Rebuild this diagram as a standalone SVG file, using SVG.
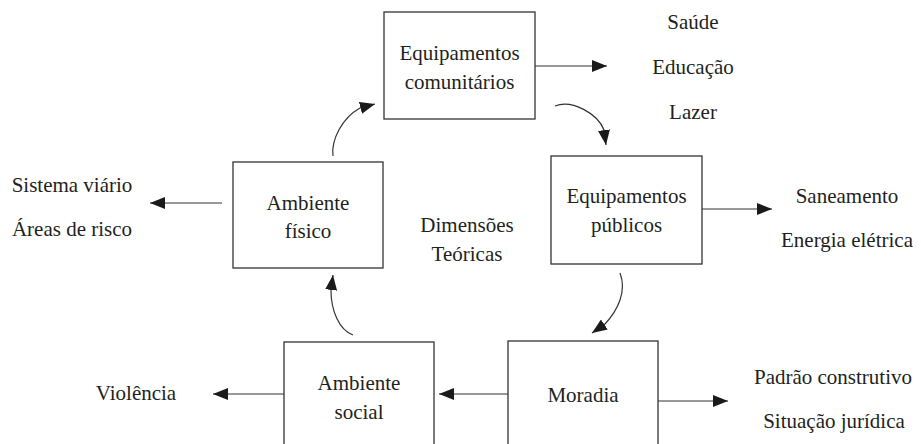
<svg xmlns="http://www.w3.org/2000/svg" width="921" height="444" viewBox="0 0 921 444">
<style>
.box{fill:#fff;stroke:#333;stroke-width:1.3}
.t{font-family:'Liberation Serif','DejaVu Serif','Noto Serif',serif;font-size:21px;fill:#231f20;text-anchor:middle}
.c{fill:none;stroke:#333;stroke-width:1.2}
</style>
<defs>
<marker id="ah" markerWidth="16" markerHeight="12" refX="15" refY="6" orient="auto" markerUnits="userSpaceOnUse">
<path d="M0,0 L15,6 L0,12 Z" fill="#1a1a1a"/>
</marker>
</defs>
<rect width="921" height="444" fill="#fff"/>
<g id="connectors">
<line class="c" x1="535" y1="66" x2="607" y2="66" marker-end="url(#ah)"/>
<line class="c" x1="702" y1="209" x2="772" y2="209" marker-end="url(#ah)"/>
<line class="c" x1="222" y1="203" x2="150" y2="203" marker-end="url(#ah)"/>
<line class="c" x1="284" y1="394" x2="213" y2="394" marker-end="url(#ah)"/>
<line class="c" x1="508" y1="394" x2="439" y2="394" marker-end="url(#ah)"/>
<line class="c" x1="658" y1="401" x2="728" y2="401" marker-end="url(#ah)"/>
<path class="c" d="M333,156 C331,140 342,118 360,108 L375,104" marker-end="url(#ah)"/>
<path class="c" d="M555,106 C572,99 598,114 604,130 L606,145" marker-end="url(#ah)"/>
<path class="c" d="M620,273 C627,291 618,310 605,324 L592,333" marker-end="url(#ah)"/>
<path class="c" d="M353,335 C339,330 331,310 331,291 L333,275" marker-end="url(#ah)"/>
</g>
<g id="equipamentos-comunitarios">
<rect class="box" x="384" y="12" width="151" height="107"/>
<text class="t" x="459.5" y="60">Equipamentos</text>
<text class="t" x="459.5" y="89">comunitários</text>
</g>
<g id="equipamentos-publicos">
<rect class="box" x="551" y="156" width="151" height="108"/>
<text class="t" x="626.5" y="203">Equipamentos</text>
<text class="t" x="626.5" y="232">públicos</text>
</g>
<g id="ambiente-fisico">
<rect class="box" x="233" y="162" width="150" height="106"/>
<text class="t" x="308" y="210">Ambiente</text>
<text class="t" x="308" y="238">físico</text>
</g>
<g id="ambiente-social">
<rect class="box" x="284" y="342" width="150" height="110"/>
<text class="t" x="359" y="390">Ambiente</text>
<text class="t" x="359" y="419">social</text>
</g>
<g id="moradia">
<rect class="box" x="508" y="341" width="150" height="110"/>
<text class="t" x="583" y="402">Moradia</text>
</g>
<g id="dimensoes">
<text class="t" x="467" y="232">Dimensões</text>
<text class="t" x="467" y="261">Teóricas</text>
</g>
<g id="labels-comunitarios">
<text class="t" x="693" y="29">Saúde</text>
<text class="t" x="693" y="74">Educação</text>
<text class="t" x="693" y="119">Lazer</text>
</g>
<g id="labels-publicos">
<text class="t" x="847" y="203">Saneamento</text>
<text class="t" x="847" y="247">Energia elétrica</text>
</g>
<g id="labels-fisico">
<text class="t" x="72" y="192">Sistema viário</text>
<text class="t" x="72" y="236">Áreas de risco</text>
</g>
<g id="labels-social">
<text class="t" x="136" y="400">Violência</text>
</g>
<g id="labels-moradia">
<text class="t" x="833" y="384">Padrão construtivo</text>
<text class="t" x="834" y="428">Situação jurídica</text>
</g>
</svg>
